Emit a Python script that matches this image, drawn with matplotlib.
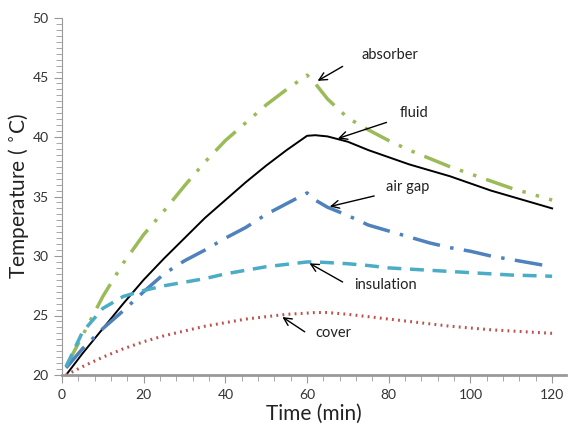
import matplotlib
matplotlib.use("Agg")
from matplotlib import pyplot as plt
from matplotlib.ticker import MultipleLocator

plt.rcParams['font.family'] = ['Lato', 'DejaVu Sans']

time_min = [1, 5, 10, 15, 20, 25, 30, 35, 40, 45, 50, 55, 60, 62, 65, 70, 75, 80,
            85, 90, 95, 100, 105, 110, 115, 120]
absorber = [20.7, 23.3, 26.6, 29.4, 31.8, 33.8, 35.9, 37.9, 39.7, 41.2, 42.7, 44.0, 45.2,
            44.5, 43.2, 41.6, 40.6, 39.7, 38.9, 38.2, 37.5, 36.9, 36.3, 35.7, 35.2, 34.7]
fluid = [20.0, 21.8, 23.9, 26.0, 28.0, 29.8, 31.5, 33.2, 34.7, 36.2, 37.6, 38.9, 40.1,
         40.15, 40.05, 39.6, 38.9, 38.3, 37.7, 37.2, 36.7, 36.1, 35.5, 35.0, 34.5, 34.0]
air_gap = [20.6, 22.2, 23.9, 25.4, 27.0, 28.5, 29.6, 30.5, 31.5, 32.4, 33.5, 34.4, 35.3,
           34.7, 34.1, 33.4, 32.6, 32.1, 31.6, 31.1, 30.7, 30.4, 30.0, 29.7, 29.4, 29.1]
insulation = [20.7, 23.6, 25.6, 26.6, 27.1, 27.5, 27.8, 28.1, 28.5, 28.8, 29.1, 29.3, 29.5,
              29.5, 29.45, 29.35, 29.2, 29.0, 28.9, 28.8, 28.7, 28.6, 28.5, 28.4, 28.35, 28.3]
cover = [20.0, 20.7, 21.5, 22.2, 22.8, 23.3, 23.7, 24.1, 24.4, 24.7, 24.9, 25.1, 25.2,
         25.25, 25.25, 25.1, 24.9, 24.7, 24.5, 24.3, 24.1, 23.95, 23.8, 23.7, 23.6, 23.5]

fig = plt.figure(figsize=(5.68, 4.30), dpi=100)
ax = fig.add_axes([62 / 568, 1 - 375 / 430, (566 - 62) / 568, (375 - 18) / 430])

ax.plot(time_min, absorber, color='#9BBB59', lw=2.5, dashes=(8, 3, 1, 3, 1, 3))
ax.plot(time_min, fluid, color='black', lw=1.4)
ax.plot(time_min, air_gap, color='#4F81BD', lw=2.5, dashes=(8, 3, 1, 3))
ax.plot(time_min, insulation, color='#4BACC6', lw=2.5, dashes=(4, 2.5))
ax.plot(time_min, cover, color='#C0504D', lw=2.2, dashes=(0.6, 1.4))

arrow = dict(arrowstyle='->', color='black', lw=1.0, mutation_scale=14)
notes = [('absorber', (62.0, 44.6), (80.3, 46.9), (69.3, 46.05)),
         ('fluid', (66.9, 39.8), (86.2, 42.0), (80.1, 41.3)),
         ('air gap', (64.9, 34.1), (84.7, 35.8), (77.1, 35.1)),
         ('insulation', (60.0, 29.5), (79.1, 27.6), (69.3, 27.7)),
         ('cover', (53.4, 25.0), (66.4, 23.5), (60.0, 23.5))]
for label, head, text_pos, tail in notes:
    ax.annotate('', xy=head, xytext=tail, arrowprops=arrow)
    ax.text(text_pos[0], text_pos[1], label, fontsize=10.5, color='#222222',
            ha='center', va='center')

ax.set_xlim(0, 123.4)
ax.set_ylim(20, 50)
ax.xaxis.set_major_locator(MultipleLocator(20))
ax.xaxis.set_minor_locator(MultipleLocator(4))
ax.yaxis.set_major_locator(MultipleLocator(5))
ax.yaxis.set_minor_locator(MultipleLocator(0.5))

ax.spines['top'].set_visible(False)
ax.spines['right'].set_visible(False)
ax.spines['bottom'].set_color('#999999')
ax.spines['bottom'].set_linewidth(2)
ax.spines['left'].set_color('#999999')
ax.spines['left'].set_linewidth(0.8)
ax.tick_params(axis='both', which='major', length=6, color='#999999',
               labelsize=10, labelcolor='#333333')
ax.tick_params(axis='both', which='minor', length=4, color='#999999')
ax.tick_params(axis='x', pad=4)

ax.set_xlabel('Time (min)', fontsize=15, color='#222222', labelpad=2)
ax.set_ylabel('Temperature ( $^{\\circ}$C)', fontsize=15, color='#222222')
ax.yaxis.set_label_coords(-0.062, 0.5)

plt.savefig('out.png', dpi=100)
